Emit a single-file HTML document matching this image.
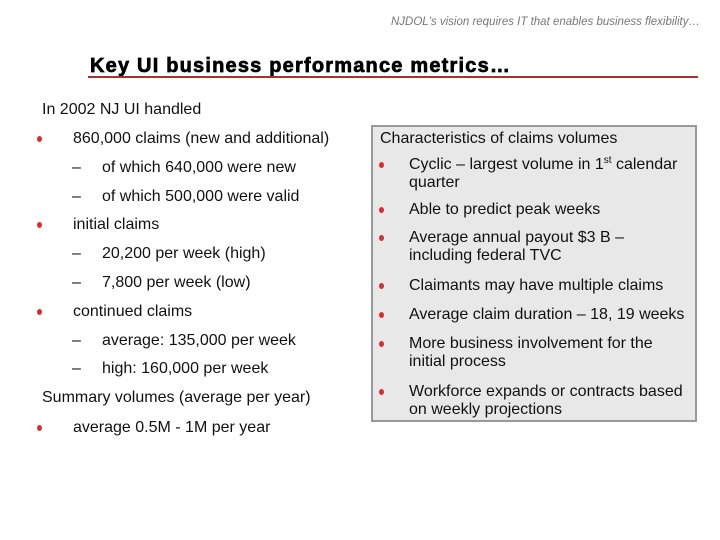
<!DOCTYPE html>
<html><head><meta charset="utf-8"><style>
body{margin:0;width:720px;height:540px;background:#fff;position:relative;overflow:hidden;font-family:"Liberation Sans",sans-serif;color:#111}
.t{position:absolute;font-size:16px;line-height:18px;white-space:nowrap}
.t sup{font-size:10px;line-height:0;vertical-align:6px}
.b{position:absolute;width:5px;height:6px;border-radius:50%;background:#d23030}
.d{position:absolute;font-size:16px;line-height:18px}
</style></head><body>
<div style="position:absolute;right:20px;top:16px;font-size:11.5px;font-style:italic;color:#777">NJDOL's vision requires IT that enables business flexibility…</div>
<div style="position:absolute;left:90px;top:55px;font-size:20px;font-weight:bold;letter-spacing:1.2px;-webkit-text-stroke:0.7px #000;color:#000">Key UI business performance metrics…</div>
<div style="position:absolute;left:88px;top:76px;width:610px;height:2px;background:#a83232"></div>

<div>
<div class="t" style="left:42px;top:101px">In 2002 NJ UI handled</div>
<div class="b" style="left:37px;top:136px"></div><div class="t" style="left:73px;top:130px">860,000 claims (new and additional)</div>
<div class="d" style="left:72px;top:159px">–</div><div class="t" style="left:102px;top:159px">of which 640,000 were new</div>
<div class="d" style="left:72px;top:188px">–</div><div class="t" style="left:102px;top:188px">of which 500,000 were valid</div>
<div class="b" style="left:37px;top:222px"></div><div class="t" style="left:73px;top:216px">initial claims</div>
<div class="d" style="left:72px;top:245px">–</div><div class="t" style="left:102px;top:245px">20,200 per week (high)</div>
<div class="d" style="left:72px;top:274px">–</div><div class="t" style="left:102px;top:274px">7,800 per week (low)</div>
<div class="b" style="left:37px;top:309px"></div><div class="t" style="left:73px;top:303px">continued claims</div>
<div class="d" style="left:72px;top:332px">–</div><div class="t" style="left:102px;top:332px">average: 135,000 per week</div>
<div class="d" style="left:72px;top:360px">–</div><div class="t" style="left:102px;top:360px">high: 160,000 per week</div>
<div class="t" style="left:42px;top:389px">Summary volumes (average per year)</div>
<div class="b" style="left:37px;top:425px"></div><div class="t" style="left:73px;top:419px">average 0.5M - 1M per year</div>
</div>

<div style="position:absolute;left:371px;top:125px;width:322px;height:293px;background:#e8e8e8;border:2px solid #999"></div>
<div>
<div class="t" style="left:380px;top:130px">Characteristics of claims volumes</div>
<div class="b" style="left:379px;top:162px"></div><div class="t" style="left:409px;top:156px">Cyclic – largest volume in 1<sup>st</sup> calendar<br>quarter</div>
<div class="b" style="left:379px;top:207px"></div><div class="t" style="left:409px;top:201px">Able to predict peak weeks</div>
<div class="b" style="left:379px;top:235px"></div><div class="t" style="left:409px;top:229px">Average annual payout $3 B –<br>including federal TVC</div>
<div class="b" style="left:379px;top:283px"></div><div class="t" style="left:409px;top:277px">Claimants may have multiple claims</div>
<div class="b" style="left:379px;top:312px"></div><div class="t" style="left:409px;top:306px">Average claim duration – 18, 19 weeks</div>
<div class="b" style="left:379px;top:341px"></div><div class="t" style="left:409px;top:335px">More business involvement for the<br>initial process</div>
<div class="b" style="left:379px;top:389px"></div><div class="t" style="left:409px;top:383px">Workforce expands or contracts based<br>on weekly projections</div>
</div>
</body></html>
